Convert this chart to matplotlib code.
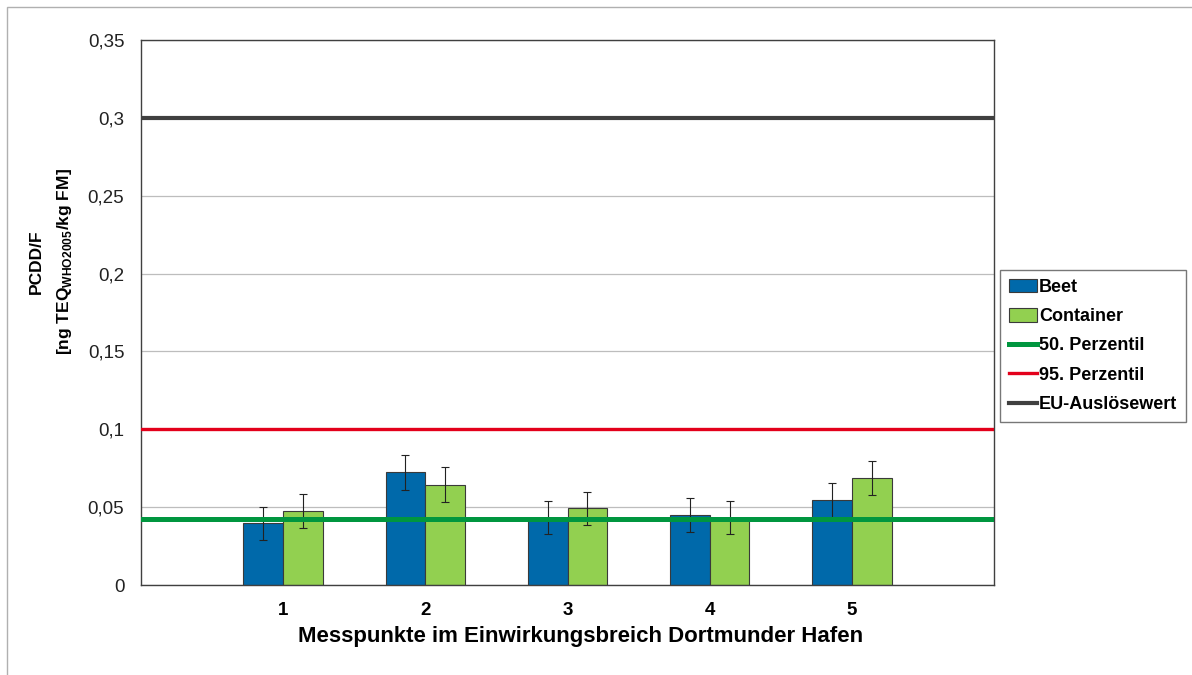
import matplotlib.pyplot as plt
import numpy as np
from matplotlib.patches import Rectangle

plt.rcParams['font.family'] = ['Liberation Sans', 'DejaVu Sans']
plt.rcParams['mathtext.fontset'] = 'custom'
plt.rcParams['mathtext.rm'] = 'Liberation Sans:bold'
plt.rcParams['mathtext.bf'] = 'Liberation Sans:bold'

messpunkte = ['1', '2', '3', '4', '5']
beet = [0.0396, 0.0724, 0.0433, 0.0450, 0.0544]
beet_err = [0.0107, 0.0112, 0.0108, 0.0110, 0.0113]
container = [0.0477, 0.0644, 0.0492, 0.0433, 0.0687]
container_err = [0.0110, 0.0111, 0.0106, 0.0108, 0.0110]
perzentil_50 = 0.0425
perzentil_95 = 0.1
eu_ausloesewert = 0.3

fig = plt.figure(figsize=(11.92, 6.75), dpi=100)
ax = fig.add_axes([0.1183, 0.1333, 0.7156, 0.8074])

x = np.arange(1, len(messpunkte) + 1)
w = 0.28
ax.set_axisbelow(True)
ax.yaxis.grid(True, color='#bdbdbd', lw=0.9)

ekw = dict(ecolor='#222222', elinewidth=0.8, capsize=3, capthick=0.8)
b1 = ax.bar(x - w / 2, beet, w, color='#0069aa', edgecolor='#3a3a3a', lw=0.8,
            yerr=beet_err, error_kw=ekw, label='Beet', zorder=2)
b2 = ax.bar(x + w / 2, container, w, color='#92d050', edgecolor='#3a3a3a', lw=0.8,
            yerr=container_err, error_kw=ekw, label='Container', zorder=2)

l50 = ax.axhline(perzentil_50, color='#00963f', lw=3.6, label='50. Perzentil', zorder=3)
l95 = ax.axhline(perzentil_95, color='#e3001b', lw=2.4, label='95. Perzentil', zorder=3)
leu = ax.axhline(eu_ausloesewert, color='#404040', lw=3.0, label='EU-Auslösewert', zorder=3)

ax.set_xlim(0, 6)
ax.set_ylim(0, 0.35)
ax.set_xticks(x)
ax.set_xticklabels(messpunkte, fontsize=13.5, fontweight='bold')
yt = np.arange(0, 0.351, 0.05)
ax.set_yticks(yt)
ax.set_yticklabels(['0' if v == 0 else f'{v:g}'.replace('.', ',') for v in yt], fontsize=13.5, color='#222222')
ax.tick_params(length=0, pad=12)
for s in ax.spines.values():
    s.set_color('#404040')
    s.set_linewidth(1.0)

ax.set_xlabel('Messpunkte im Einwirkungsbreich Dortmunder Hafen', fontsize=16, fontweight='bold')
ax.xaxis.set_label_coords(0.515, -0.075)
ax.set_ylabel('PCDD/F\n[ng TEQ$_{\\mathbf{WHO2005}}$/kg FM]', fontsize=12.5, fontweight='bold',
              linespacing=1.75)
ax.yaxis.set_label_coords(-0.079, 0.594)

leg = fig.legend(handles=[b1, b2, l50, l95, leu], loc='center left',
                 bbox_to_anchor=(1000 / 1192, 1 - 346 / 675), frameon=True, fancybox=False,
                 prop=dict(size=13, weight='bold'), handlelength=1.55, handleheight=0.75,
                 handletextpad=0.12, labelspacing=0.68, borderpad=0.5, borderaxespad=0)
leg.get_frame().set_edgecolor('#555555')
leg.get_frame().set_linewidth(1.0)

# outer chart frame
fig.add_artist(Rectangle((7 / 1192, -0.02), 1.1, 1 - 7 / 675 + 0.02, transform=fig.transFigure,
                         fill=False, edgecolor='#b0b0b0', lw=1.0))

fig.savefig('out.png', dpi=100)
